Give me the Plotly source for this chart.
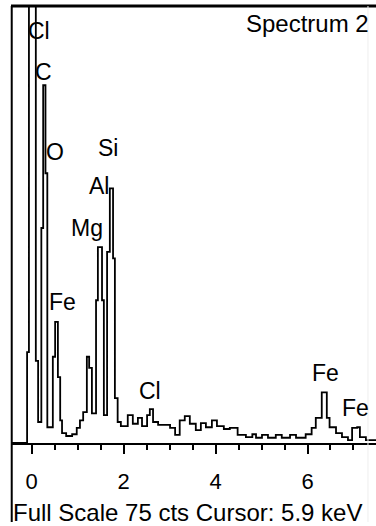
import plotly.graph_objects as go

# EDS spectrum, stepped counts per energy channel (keV, counts)
energy_kev = [-0.45, -0.10, -0.06, 0.09, 0.14, 0.21, 0.25, 0.30, 0.34, 0.46,
              0.51, 0.57, 0.62, 0.66, 0.75, 0.88, 0.98, 1.05, 1.12, 1.20,
              1.25, 1.31, 1.40, 1.44, 1.53, 1.57, 1.64, 1.70, 1.77, 1.81,
              1.87, 1.94, 2.09, 2.20, 2.31, 2.40, 2.51, 2.57, 2.64, 2.75,
              3.01, 3.12, 3.22, 3.33, 3.44, 3.57, 3.68, 3.79, 3.92, 4.03,
              4.18, 4.31, 4.48, 4.66, 4.80, 4.88, 5.01, 5.14, 5.31, 5.44,
              5.62, 5.75, 5.96, 6.09, 6.18, 6.31, 6.42, 6.48, 6.62, 6.75,
              6.88, 6.97, 7.08, 7.14, 7.27, 7.49]
counts = [0.0, 15.6, 120.0, 14.1, 3.6, 36.9, 61.4, 46.3, 2.7, 14.8,
          20.8, 11.3, 3.9, 1.7, 1.2, 1.5, 2.6, 3.9, 5.3, 14.8,
          12.9, 5.1, 24.5, 33.6, 24.5, 4.8, 32.8, 43.7, 31.7, 7.7,
          3.6, 2.9, 4.8, 3.3, 4.3, 2.9, 4.8, 5.8, 3.6, 3.1,
          2.6, 1.4, 3.9, 4.6, 3.3, 2.2, 3.4, 2.7, 3.9, 2.9,
          2.4, 2.6, 1.4, 1.0, 1.5, 0.9, 1.4, 0.9, 1.4, 0.9,
          1.4, 0.9, 1.5, 2.6, 4.3, 8.7, 4.3, 2.7, 1.7, 1.0,
          0.5, 2.6, 2.7, 1.0, 0.5, 0.5]

# Element markers: label, energy position, height (counts)
peak_labels = ["Cl", "C", "O", "Si", "Al", "Mg", "Fe", "Cl", "Fe", "Fe"]
peak_label_x = [0.16, 0.25, 0.51, 1.66, 1.46, 1.20, 0.68, 2.57, 6.40, 7.05]
peak_label_y = [70.7, 63.6, 49.9, 50.6, 44.1, 36.9, 24.2, 8.9, 12.0, 6.0]

x_ticks = [0, 2, 4, 6]
full_scale = 75
spectrum_name = "Spectrum 2"
status_text = "Full Scale 75 cts Cursor: 5.9 keV"

FONT = "Liberation Sans, Arial, sans-serif"

fig = go.Figure()
fig.add_trace(go.Scatter(
    x=energy_kev, y=counts, mode="lines",
    line=dict(shape="hv", color="black", width=1.8),
    hoverinfo="skip", showlegend=False,
))

annotations = []
for txt, ax, ay in zip(peak_labels, peak_label_x, peak_label_y):
    annotations.append(dict(
        x=ax, y=ay, xref="x", yref="y", text=txt, showarrow=False,
        font=dict(family=FONT, size=23, color="black"),
        xanchor="center", yanchor="middle",
    ))
annotations.append(dict(
    x=0.985, y=0.995, xref="paper", yref="paper", text=spectrum_name,
    showarrow=False, font=dict(family=FONT, size=24, color="black"),
    xanchor="right", yanchor="top",
))
annotations.append(dict(
    x=0.0, y=-0.158, xref="paper", yref="paper", text=status_text,
    showarrow=False, font=dict(family=FONT, size=24, color="black"),
    xanchor="left", yanchor="middle",
))

shapes = [
    # frame: top edge and left edge running down past the status line
    dict(type="line", xref="paper", yref="paper", x0=0, x1=1, y0=1, y1=1,
         line=dict(color="black", width=3)),
    dict(type="line", xref="paper", yref="paper", x0=0.002, x1=0.002,
         y0=1, y1=-0.181, line=dict(color="black", width=2)),
    # faint right-hand divider
    dict(type="line", xref="paper", yref="paper", x0=0.978, x1=0.978,
         y0=1, y1=-0.181, line=dict(color="#eeeeee", width=1)),
]

fig.update_layout(
    width=376, height=526,
    margin=dict(l=11, r=0, t=6, b=83),
    paper_bgcolor="white", plot_bgcolor="white",
    annotations=annotations, shapes=shapes,
    xaxis=dict(
        range=[-0.45, 7.49], showgrid=False, zeroline=False,
        showline=True, linecolor="black", linewidth=2,
        ticks="outside", tickvals=x_ticks, ticklen=9, tickwidth=2,
        tickcolor="black", ticklabelstandoff=9,
        tickfont=dict(family=FONT, size=22, color="black"),
        minor=dict(dtick=0.5, tick0=0, ticks="outside", ticklen=5,
                   tickwidth=2, tickcolor="black", showgrid=False),
        fixedrange=True,
    ),
    yaxis=dict(range=[0, full_scale], visible=False, fixedrange=True),
)

fig.write_html("out.html")
